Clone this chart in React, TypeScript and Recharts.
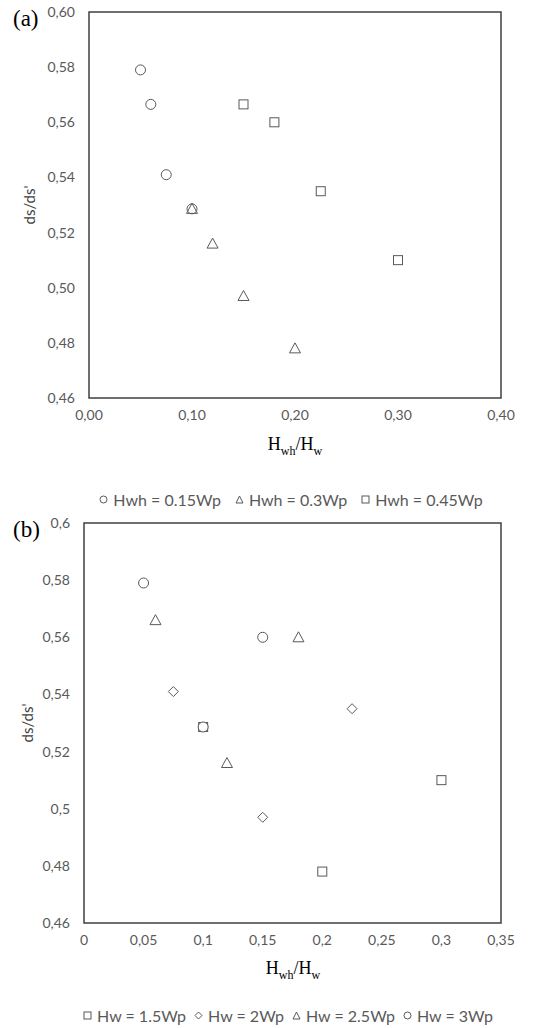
import React from "react";
import {
  ScatterChart,
  Scatter,
  XAxis,
  YAxis,
  ReferenceArea,
  Label,
} from "recharts";

// (a) grouped by Hwh
const aCircles = [
  { x: 0.05, y: 0.579 },
  { x: 0.06, y: 0.5665 },
  { x: 0.075, y: 0.541 },
  { x: 0.1, y: 0.5286 },
];
const aTriangles = [
  { x: 0.1, y: 0.5286 },
  { x: 0.12, y: 0.516 },
  { x: 0.15, y: 0.497 },
  { x: 0.2, y: 0.478 },
];
const aSquares = [
  { x: 0.15, y: 0.5665 },
  { x: 0.18, y: 0.56 },
  { x: 0.225, y: 0.535 },
  { x: 0.3, y: 0.51 },
];
const aXTicks = [0, 0.1, 0.2, 0.3, 0.4];
const aYTicks = [0.46, 0.48, 0.5, 0.52, 0.54, 0.56, 0.58, 0.6];

// (b) grouped by Hw
const bSquares = [
  { x: 0.1, y: 0.5286 },
  { x: 0.2, y: 0.478 },
  { x: 0.3, y: 0.51 },
];
const bDiamonds = [
  { x: 0.075, y: 0.541 },
  { x: 0.15, y: 0.497 },
  { x: 0.225, y: 0.535 },
];
const bTriangles = [
  { x: 0.06, y: 0.566 },
  { x: 0.12, y: 0.516 },
  { x: 0.18, y: 0.56 },
];
const bCircles = [
  { x: 0.05, y: 0.579 },
  { x: 0.1, y: 0.5286 },
  { x: 0.15, y: 0.56 },
];
const bXTicks = [0, 0.05, 0.1, 0.15, 0.2, 0.25, 0.3, 0.35];
const bYTicks = [0.46, 0.48, 0.5, 0.52, 0.54, 0.56, 0.58, 0.6];

const legendA = ["Hwh = 0.15Wp", "Hwh = 0.3Wp", "Hwh = 0.45Wp"];
const legendB = ["Hw = 1.5Wp", "Hw = 2Wp", "Hw = 2.5Wp", "Hw = 3Wp"];

const GRAY = "#595959";
const SANS = "Lato, 'Open Sans', sans-serif";
const SERIF = "'Liberation Serif', 'DejaVu Serif', serif";

const circle = (p: any) => (
  <circle cx={p.cx} cy={p.cy} r={5} fill="#fff" stroke={GRAY} strokeWidth={1} />
);
const triangle = (p: any) => (
  <polygon
    points={`${p.cx},${p.cy - 5.5} ${p.cx - 5.5},${p.cy + 4.5} ${p.cx + 5.5},${p.cy + 4.5}`}
    fill="none"
    stroke={GRAY}
    strokeWidth={1}
  />
);
const square = (p: any) => (
  <rect x={p.cx - 4.5} y={p.cy - 4.5} width={9} height={9} fill="none" stroke={GRAY} strokeWidth={1} />
);
const diamond = (p: any) => (
  <polygon
    points={`${p.cx},${p.cy - 5} ${p.cx + 5},${p.cy} ${p.cx},${p.cy + 5} ${p.cx - 5},${p.cy}`}
    fill="none"
    stroke={GRAY}
    strokeWidth={1}
  />
);

const icons: Record<string, (s: number) => React.ReactNode> = {
  circle: (s) => <circle cx={s / 2} cy={s / 2} r={s / 2 - 1} fill="none" stroke={GRAY} />,
  triangle: (s) => (
    <polygon points={`${s / 2},1 1,${s - 1} ${s - 1},${s - 1}`} fill="none" stroke={GRAY} />
  ),
  square: (s) => <rect x={1} y={1} width={s - 2} height={s - 2} fill="none" stroke={GRAY} />,
  diamond: (s) => (
    <polygon points={`${s / 2},1 ${s - 1},${s / 2} ${s / 2},${s - 1} 1,${s / 2}`} fill="none" stroke={GRAY} />
  ),
};

const fmt2 = (v: number) => v.toFixed(2).replace(".", ",");
const fmtShort = (v: number) => String(Number(v.toFixed(2))).replace(".", ",");

const tickStyle = { fill: GRAY, fontSize: 14, fontFamily: SANS };

function XTitle({ x, y }: { x: number; y: number }) {
  return (
    <div
      style={{
        position: "absolute",
        left: x - 60,
        top: y,
        width: 120,
        textAlign: "center",
        fontFamily: SERIF,
        fontSize: 18,
        color: "#000",
      }}
    >
      H<sub style={{ fontSize: 12 }}>wh</sub>/H<sub style={{ fontSize: 12 }}>w</sub>
    </div>
  );
}

function Legend({ items, shapes, x, y, gap }: { items: string[]; shapes: string[]; x: number; y: number; gap: number }) {
  return (
    <div
      style={{
        position: "absolute",
        left: x - 260,
        top: y,
        width: 520,
        display: "flex",
        justifyContent: "center",
        gap,
        fontFamily: SANS,
        fontSize: 16,
        color: GRAY,
      }}
    >
      {items.map((t, i) => (
        <span key={t} style={{ display: "flex", alignItems: "center", gap: 5 }}>
          <svg width={9} height={9}>{icons[shapes[i]](9)}</svg>
          {t}
        </span>
      ))}
    </div>
  );
}

export default function App() {
  return (
    <div style={{ position: "absolute", left: 0, top: 0, width: 542, height: 1028, background: "#fff" }}>
      <div style={{ position: "absolute", left: 13, top: 6, fontFamily: SERIF, fontSize: 23 }}>(a)</div>
      <div style={{ position: "absolute", left: 0, top: 0 }}>
        <ScatterChart width={542} height={430} margin={{ top: 12, right: 41, left: 0, bottom: 0 }}>
          <XAxis
            type="number"
            dataKey="x"
            domain={[0, 0.4]}
            ticks={aXTicks}
            tickFormatter={fmt2}
            tick={tickStyle}
            tickLine={false}
            axisLine={false}
            tickSize={0}
            tickMargin={12}
            height={32}
            allowDataOverflow
          />
          <YAxis
            type="number"
            dataKey="y"
            domain={[0.46, 0.6]}
            ticks={aYTicks}
            tickFormatter={fmt2}
            tick={tickStyle}
            tickLine={false}
            axisLine={false}
            tickSize={0}
            tickMargin={14}
            width={89}
            allowDataOverflow
          >
            <Label
              value="ds/ds'"
              angle={-90}
              position="insideLeft"
              offset={30}
              style={{ fill: "#404040", fontSize: 15, fontFamily: SANS, textAnchor: "middle" }}
            />
          </YAxis>
          <ReferenceArea x1={0} x2={0.4} y1={0.46} y2={0.6} fill="none" stroke="#404040" strokeWidth={1.5} />
          <Scatter data={aCircles} shape={circle} isAnimationActive={false} />
          <Scatter data={aTriangles} shape={triangle} isAnimationActive={false} />
          <Scatter data={aSquares} shape={square} isAnimationActive={false} />
        </ScatterChart>
      </div>
      <XTitle x={295} y={434} />
      <Legend items={legendA} shapes={["circle", "triangle", "square"]} x={291} y={490} gap={14} />

      <div style={{ position: "absolute", left: 13, top: 517, fontFamily: SERIF, fontSize: 23 }}>(b)</div>
      <div style={{ position: "absolute", left: 0, top: 510 }}>
        <ScatterChart width={542} height={445} margin={{ top: 13, right: 41, left: 0, bottom: 0 }}>
          <XAxis
            type="number"
            dataKey="x"
            domain={[0, 0.35]}
            ticks={bXTicks}
            tickFormatter={fmtShort}
            tick={tickStyle}
            tickLine={false}
            axisLine={false}
            tickSize={0}
            tickMargin={12}
            height={32}
            allowDataOverflow
          />
          <YAxis
            type="number"
            dataKey="y"
            domain={[0.46, 0.6]}
            ticks={bYTicks}
            tickFormatter={fmtShort}
            tick={tickStyle}
            tickLine={false}
            axisLine={false}
            tickSize={0}
            tickMargin={14}
            width={84}
            allowDataOverflow
          >
            <Label
              value="ds/ds'"
              angle={-90}
              position="insideLeft"
              offset={28}
              style={{ fill: "#404040", fontSize: 15, fontFamily: SANS, textAnchor: "middle" }}
            />
          </YAxis>
          <ReferenceArea x1={0} x2={0.35} y1={0.46} y2={0.6} fill="none" stroke="#404040" strokeWidth={1.5} />
          <Scatter data={bSquares} shape={square} isAnimationActive={false} />
          <Scatter data={bDiamonds} shape={diamond} isAnimationActive={false} />
          <Scatter data={bTriangles} shape={triangle} isAnimationActive={false} />
          <Scatter data={bCircles} shape={circle} isAnimationActive={false} />
        </ScatterChart>
      </div>
      <XTitle x={293} y={958} />
      <Legend items={legendB} shapes={["square", "diamond", "triangle", "circle"]} x={288} y={1006} gap={8} />
    </div>
  );
}
